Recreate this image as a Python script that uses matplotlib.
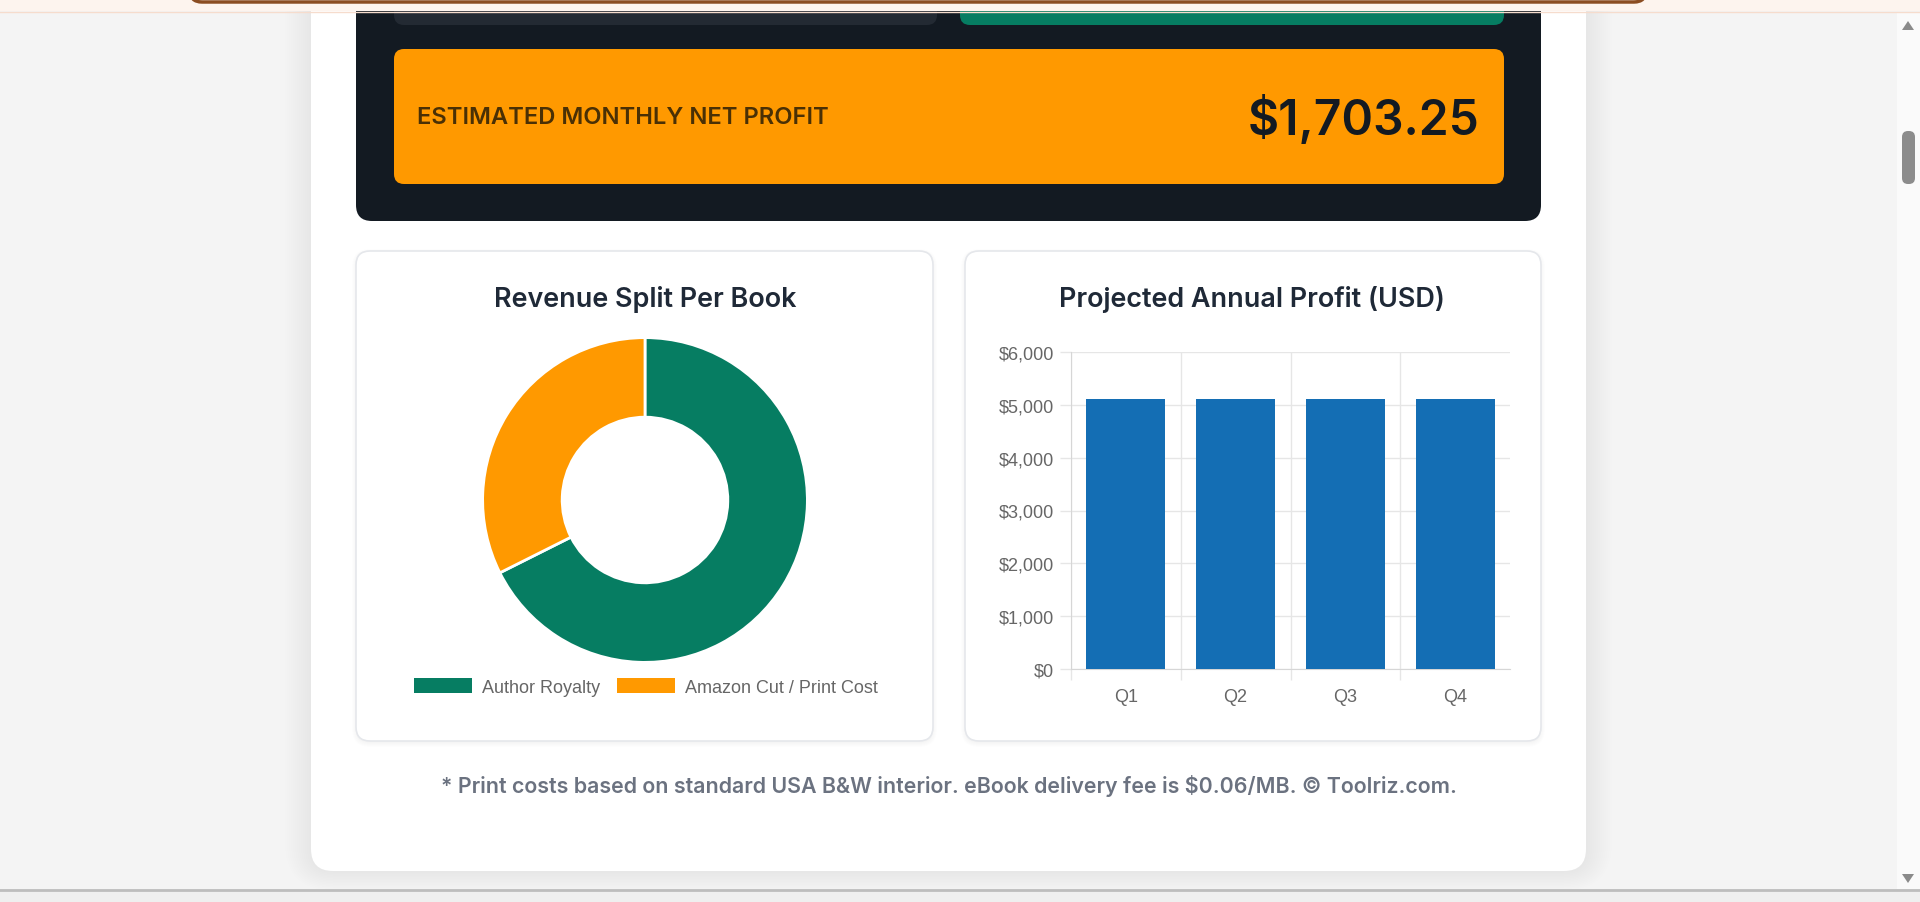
import matplotlib
matplotlib.use("Agg")
import matplotlib.pyplot as plt
from matplotlib.patches import FancyBboxPatch, Patch, Polygon
from matplotlib.ticker import FuncFormatter

# chart data
monthly_profit = 1703.25
split_labels = ["Author Royalty", "Amazon Cut / Print Cost"]
split_values = [67.6, 32.4]
split_colors = ["#067d62", "#ff9900"]
quarters = ["Q1", "Q2", "Q3", "Q4"]
quarter_profit = [5109.75, 5109.75, 5109.75, 5109.75]
y_ticks = [0, 1000, 2000, 3000, 4000, 5000, 6000]

W, H = 1920, 903
fig = plt.figure(figsize=(W / 100, H / 100), dpi=100)
fig.patch.set_facecolor("#f4f4f4")

# page background drawn in pixel coords
bg = fig.add_axes([0, 0, 1, 1])
bg.set_xlim(0, W)
bg.set_ylim(H, 0)
bg.axis("off")


def box(x0, y0, x1, y1, fc, r=0, ec="none", lw=0, z=1, alpha=1.0):
    p = FancyBboxPatch((x0, y0), x1 - x0, y1 - y0,
                       boxstyle=f"round,pad=0,rounding_size={r}",
                       fc=fc, ec=ec, lw=lw, zorder=z, alpha=alpha)
    bg.add_patch(p)


# soft shadow round the main card
for i in range(14):
    box(311 - i * 2, -60, 1586 + i * 2, 872 + i * 1.5, "black", r=22 + i * 2, alpha=0.004, z=1)
box(311, -60, 1586, 872, "white", r=22, z=2)

# dark summary panel
box(356, -60, 1541, 222, "#131a22", r=16, z=3)
box(394, -60, 937, 26, "#232a33", r=10, z=4)
box(960, -60, 1504, 26, "#067d62", r=10, z=4)
box(394, 50, 1504, 185, "#ff9900", r=10, z=4)
bg.text(417, 118, "ESTIMATED MONTHLY NET PROFIT", fontsize=17.1, family="Inter",
        fontweight="semibold", color="#4a3005", va="center", ha="left", zorder=5)
bg.text(1479, 135, f"${monthly_profit:,.2f}", fontsize=34.5, family="Inter",
        fontweight="semibold", color="#131a22", va="baseline", ha="right", zorder=5)

# two chart cards
for x0, x1 in [(356, 933), (965, 1541)]:
    for i in range(5):
        box(x0 - i, 252 - i + 2, x1 + i, 742 + i + 2, "black", r=14 + i, alpha=0.006, z=3)
    box(x0, 252, x1, 742, "white", r=14, ec="#e5e7eb", lw=1.2, z=4)

bg.text(645, 307, "Revenue Split Per Book", fontsize=19.4, family="Inter",
        fontweight="semibold", color="#1f2937", ha="center", va="baseline", zorder=5)
bg.text(1252, 307, "Projected Annual Profit (USD)", fontsize=19.4, family="Inter",
        fontweight="semibold", color="#1f2937", ha="center", va="baseline", zorder=5)

bg.text(949, 793, "* Print costs based on standard USA B&W interior. eBook delivery fee is $0.06/MB. \u00a9 Toolriz.com.",
        fontsize=15.4, family="Inter", fontweight="semibold", color="#6b7280",
        ha="center", va="baseline", zorder=5)

# browser chrome
box(0, 0, W, 12, "#fdf4ee", z=6)
box(190, -40, 1646, 3, "#fdf4ee", r=12, ec="#8b4d22", lw=2.5, z=7)
bg.plot([0, W], [12.5, 12.5], color="#f6dccd", lw=1, zorder=7)
box(1897, 13, W, 890, "#fafafa", z=6)
box(1902, 132, 1915, 185, "#8c8c8c", r=6, z=7)
bg.add_patch(Polygon([(1902, 31), (1914, 31), (1908, 22)], closed=True, fc="#8a8a8a", ec="none", zorder=7))
bg.add_patch(Polygon([(1902, 875), (1914, 875), (1908, 884)], closed=True, fc="#8a8a8a", ec="none", zorder=7))
box(0, 892, W, H, "#efefef", z=6)
bg.plot([0, W], [891.5, 891.5], color="#bdbdbd", lw=2, zorder=7)

# doughnut
cx, cy, rad = 645, 501, 164
pax = fig.add_axes([(cx - rad) / W, 1 - (cy + rad) / H, 2 * rad / W, 2 * rad / H])
pax.pie(split_values, colors=split_colors, startangle=90, counterclock=False, radius=1,
        wedgeprops=dict(width=0.49, edgecolor="white", linewidth=2))
pax.set_xlim(-1.01, 1.01)
pax.set_ylim(-1.01, 1.01)
pax.set_aspect("equal")
pax.axis("off")

handles = [Patch(fc=c, ec="none") for c in split_colors]
fig.legend(handles, split_labels, loc="center", bbox_to_anchor=(646 / W, 1 - 688 / H),
           ncol=2, frameon=False, handlelength=3.2, handleheight=0.9,
           handletextpad=0.6, columnspacing=0.9, labelcolor="#666666",
           prop={"family": "Liberation Sans", "size": 13})

# bar chart
bax = fig.add_axes([1071 / W, 1 - 670 / H, (1510 - 1071) / W, (670 - 353) / H])
bax.bar(range(len(quarters)), quarter_profit, width=0.72, color="#146eb4", zorder=3)
bax.set_xlim(-0.5, len(quarters) - 0.5)
bax.set_ylim(0, 6000)
bax.set_yticks(y_ticks)
bax.yaxis.set_major_formatter(FuncFormatter(lambda v, p: f"${v:,.0f}"))
bax.set_xticks(range(len(quarters)))
bax.set_xticklabels(quarters)
bax.set_xticks([i - 0.5 for i in range(len(quarters))], minor=True)
bax.tick_params(axis="y", length=8, width=1, color="#e6e6e6", labelsize=13,
                labelcolor="#666666", pad=4)
bax.tick_params(axis="x", which="major", length=0, labelsize=13, labelcolor="#666666", pad=14)
bax.tick_params(axis="x", which="minor", length=8, width=1, color="#e6e6e6")
for lab in bax.get_xticklabels() + bax.get_yticklabels():
    lab.set_family("Liberation Sans")
bax.grid(axis="y", which="major", color="#e6e6e6", lw=1, zorder=0)
bax.grid(axis="x", which="minor", color="#e6e6e6", lw=1, zorder=0)
for s in ["top", "right"]:
    bax.spines[s].set_visible(False)
for s in ["left", "bottom"]:
    bax.spines[s].set_color("#d6d6d6")
bax.set_facecolor("none")

fig.savefig("out.png", dpi=100, facecolor=fig.get_facecolor())
